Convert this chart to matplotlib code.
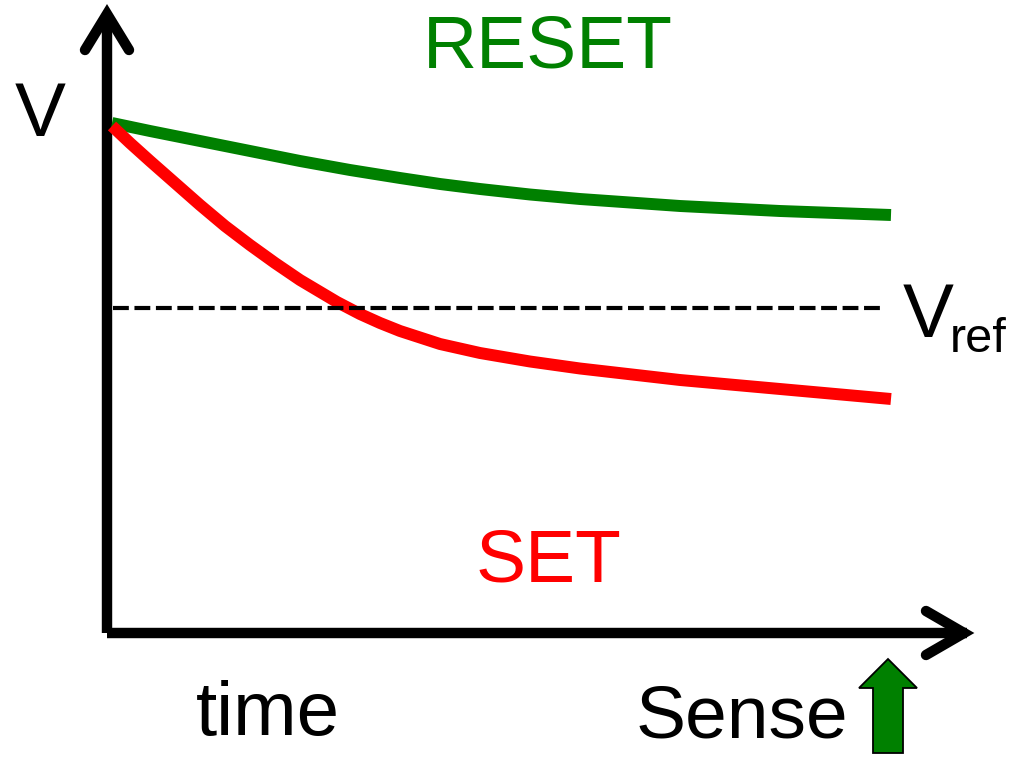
import numpy as np
import matplotlib
matplotlib.use("Agg")
import matplotlib.pyplot as plt
from matplotlib.patches import Polygon

plt.rcParams['font.family'] = ['Liberation Sans', 'DejaVu Sans']

# curves (x = time, y = voltage, picture units, y down)
reset_t = [112, 150, 200, 250, 300, 350, 400, 440, 480, 530, 580, 680, 780, 891]
reset_v = [123, 131, 141, 151, 161, 170, 178, 184, 189, 194.5, 199, 206, 211, 215]
set_t = [112, 130, 150, 175, 200, 225, 250, 275, 300, 337, 360, 380, 400,
         440, 480, 530, 580, 680, 780, 891]
set_v = [126, 143, 161, 183, 205, 226, 245, 263, 280, 302, 314, 323, 331,
         344, 353, 361.5, 368.5, 380, 389, 399]
vref = 308
vref_t = [113, 885]

green = '#008000'
red = '#ff0000'

fig = plt.figure(figsize=(10.11, 7.57), dpi=100)
ax = fig.add_axes([0, 0, 1, 1])
ax.set_xlim(0, 1011)
ax.set_ylim(757, 0)
ax.axis('off')

# axes with open arrow heads
ax.plot([107, 107], [633, 16], color='black', lw=7.5, solid_capstyle='butt')
ax.plot([107, 967], [633, 633], color='black', lw=7.5, solid_capstyle='butt')
ax.plot([85, 107, 129], [50, 14, 50], color='black', lw=7.5,
        solid_capstyle='round', solid_joinstyle='miter')
ax.plot([926, 964, 926], [611, 633, 655], color='black', lw=7.5,
        solid_capstyle='round', solid_joinstyle='miter')

ax.plot(reset_t, reset_v, color=green, lw=8.6, solid_capstyle='butt',
        solid_joinstyle='round')
ax.plot(set_t, set_v, color=red, lw=8.6, solid_capstyle='butt',
        solid_joinstyle='round')
ax.plot(vref_t, [vref, vref], color='black', lw=3, ls=(0, (3.8, 1.35)))

ax.text(15, 136, 'V', fontsize=55, ha='left', va='baseline')
ax.text(548, 67, 'RESET', fontsize=54, color=green, ha='center', va='baseline')
ax.text(548, 582, 'SET', fontsize=54, color=red, ha='center', va='baseline')
ax.text(903, 337, 'V', fontsize=55, ha='left', va='baseline')
ax.text(950, 352, 'ref', fontsize=35, ha='left', va='baseline')
ax.text(196, 735, 'time', fontsize=55, ha='left', va='baseline')
ax.text(636, 738, 'Sense', fontsize=54, ha='left', va='baseline')

# green "sense" arrow
cx, tip, neck, bottom = 888, 659, 688, 753
body, head = 15, 29
ax.add_patch(Polygon([[cx, tip], [cx + head, neck], [cx + body, neck],
                      [cx + body, bottom], [cx - body, bottom],
                      [cx - body, neck], [cx - head, neck]],
                     closed=True, facecolor=green, edgecolor='black', lw=1.3))

fig.savefig('out.png', dpi=100)
